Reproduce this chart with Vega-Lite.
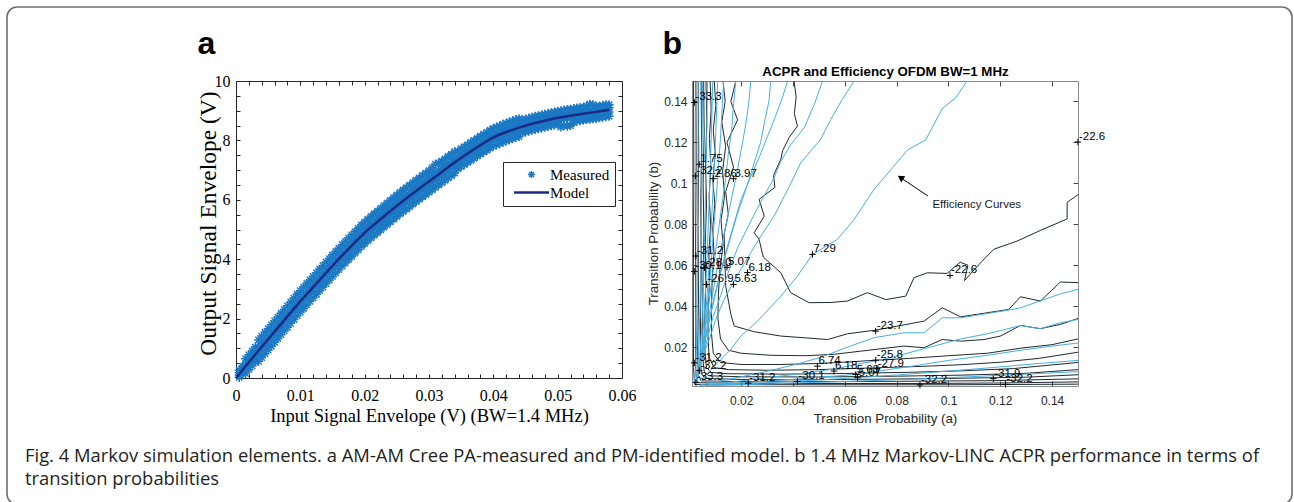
{
"$schema":"https://vega.github.io/schema/vega-lite/v6.json",
"width":1285,"height":497,
"autosize":"none",
"padding":{"left":7,"top":7,"right":2,"bottom":-2},
"background":"white",
"config":{"view":{"stroke":"#6e6e6e","strokeWidth":1.6,"cornerRadius":10,"fill":"white"},"axis":{"grid":false,"labelFlush":false,"labelOverlap":false,"titleFontWeight":"normal","zindex":1}},
"title":{"text":["Fig. 4 Markov simulation elements. a AM-AM Cree PA-measured and PM-identified model. b 1.4 MHz Markov-LINC ACPR performance in terms of","transition probabilities"],"orient":"bottom","anchor":"start","frame":"group","offset":-42,"dx":18,"baseline":"alphabetic","font":"Open Sans","fontSize":18.4,"fontWeight":"normal","color":"#231f20","lineHeight":22.5},
"datasets":{
"measured":[{"x":0.0005,"y":0.02},{"x":0.0005,"y":0.1},{"x":0.0005,"y":0.18},{"x":0.0005,"y":0.26},
{"x":0.001,"y":0.15},{"x":0.001,"y":0.23},{"x":0.001,"y":0.31},{"x":0.001,"y":0.39},
{"x":0.0015,"y":0.15},{"x":0.0015,"y":0.32},{"x":0.0015,"y":0.48},{"x":0.0015,"y":0.65},
{"x":0.002,"y":0.28},{"x":0.002,"y":0.45},{"x":0.002,"y":0.61},{"x":0.002,"y":0.78},
{"x":0.0025,"y":0.41},{"x":0.0025,"y":0.58},{"x":0.0025,"y":0.74},{"x":0.0025,"y":0.91},
{"x":0.003,"y":0.54},{"x":0.003,"y":0.71},{"x":0.003,"y":0.87},{"x":0.003,"y":1.04},
{"x":0.0035,"y":0.56},{"x":0.0035,"y":0.8},{"x":0.0035,"y":1.04},{"x":0.0035,"y":1.28},
{"x":0.004,"y":0.69},{"x":0.004,"y":0.93},{"x":0.004,"y":1.17},{"x":0.004,"y":1.41},
{"x":0.0045,"y":0.82},{"x":0.0045,"y":1.06},{"x":0.0045,"y":1.3},{"x":0.0045,"y":1.54},
{"x":0.005,"y":0.94},{"x":0.005,"y":1.18},{"x":0.005,"y":1.42},{"x":0.005,"y":1.66},
{"x":0.0055,"y":1.07},{"x":0.0055,"y":1.31},{"x":0.0055,"y":1.55},{"x":0.0055,"y":1.79},
{"x":0.006,"y":1.2},{"x":0.006,"y":1.44},{"x":0.006,"y":1.68},{"x":0.006,"y":1.92},
{"x":0.0065,"y":1.33},{"x":0.0065,"y":1.57},{"x":0.0065,"y":1.81},{"x":0.0065,"y":2.05},
{"x":0.007,"y":1.46},{"x":0.007,"y":1.7},{"x":0.007,"y":1.94},{"x":0.007,"y":2.18},
{"x":0.0075,"y":1.59},{"x":0.0075,"y":1.83},{"x":0.0075,"y":2.07},{"x":0.0075,"y":2.31},
{"x":0.008,"y":1.71},{"x":0.008,"y":1.95},{"x":0.008,"y":2.19},{"x":0.008,"y":2.43},
{"x":0.0085,"y":1.84},{"x":0.0085,"y":2.08},{"x":0.0085,"y":2.32},{"x":0.0085,"y":2.56},
{"x":0.009,"y":1.97},{"x":0.009,"y":2.21},{"x":0.009,"y":2.45},{"x":0.009,"y":2.69},
{"x":0.0095,"y":2.1},{"x":0.0095,"y":2.34},{"x":0.0095,"y":2.58},{"x":0.0095,"y":2.82},
{"x":0.01,"y":2.22},{"x":0.01,"y":2.46},{"x":0.01,"y":2.7},{"x":0.01,"y":2.94},
{"x":0.0105,"y":2.34},{"x":0.0105,"y":2.58},{"x":0.0105,"y":2.82},{"x":0.0105,"y":3.06},
{"x":0.011,"y":2.46},{"x":0.011,"y":2.7},{"x":0.011,"y":2.94},{"x":0.011,"y":3.18},
{"x":0.0115,"y":2.58},{"x":0.0115,"y":2.82},{"x":0.0115,"y":3.06},{"x":0.0115,"y":3.3},
{"x":0.012,"y":2.7},{"x":0.012,"y":2.94},{"x":0.012,"y":3.18},{"x":0.012,"y":3.42},
{"x":0.0125,"y":2.82},{"x":0.0125,"y":3.06},{"x":0.0125,"y":3.3},{"x":0.0125,"y":3.54},
{"x":0.013,"y":2.94},{"x":0.013,"y":3.18},{"x":0.013,"y":3.42},{"x":0.013,"y":3.66},
{"x":0.0135,"y":3.06},{"x":0.0135,"y":3.3},{"x":0.0135,"y":3.54},{"x":0.0135,"y":3.78},
{"x":0.014,"y":3.18},{"x":0.014,"y":3.42},{"x":0.014,"y":3.66},{"x":0.014,"y":3.9},
{"x":0.0145,"y":3.3},{"x":0.0145,"y":3.54},{"x":0.0145,"y":3.78},{"x":0.0145,"y":4.02},
{"x":0.015,"y":3.42},{"x":0.015,"y":3.66},{"x":0.015,"y":3.9},{"x":0.015,"y":4.14},
{"x":0.0155,"y":3.54},{"x":0.0155,"y":3.78},{"x":0.0155,"y":4.02},{"x":0.0155,"y":4.26},
{"x":0.016,"y":3.65},{"x":0.016,"y":3.89},{"x":0.016,"y":4.13},{"x":0.016,"y":4.37},
{"x":0.0165,"y":3.77},{"x":0.0165,"y":4.01},{"x":0.0165,"y":4.25},{"x":0.0165,"y":4.49},
{"x":0.017,"y":3.88},{"x":0.017,"y":4.12},{"x":0.017,"y":4.36},{"x":0.017,"y":4.6},
{"x":0.0175,"y":3.99},{"x":0.0175,"y":4.23},{"x":0.0175,"y":4.47},{"x":0.0175,"y":4.71},
{"x":0.018,"y":4.1},{"x":0.018,"y":4.34},{"x":0.018,"y":4.58},{"x":0.018,"y":4.82},
{"x":0.0185,"y":4.21},{"x":0.0185,"y":4.45},{"x":0.0185,"y":4.69},{"x":0.0185,"y":4.93},
{"x":0.019,"y":4.32},{"x":0.019,"y":4.56},{"x":0.019,"y":4.8},{"x":0.019,"y":5.04},
{"x":0.0195,"y":4.43},{"x":0.0195,"y":4.67},{"x":0.0195,"y":4.91},{"x":0.0195,"y":5.15},
{"x":0.02,"y":4.53},{"x":0.02,"y":4.77},{"x":0.02,"y":5.01},{"x":0.02,"y":5.25},
{"x":0.0205,"y":4.63},{"x":0.0205,"y":4.87},{"x":0.0205,"y":5.11},{"x":0.0205,"y":5.35},
{"x":0.021,"y":4.72},{"x":0.021,"y":4.96},{"x":0.021,"y":5.2},{"x":0.021,"y":5.44},
{"x":0.0215,"y":4.81},{"x":0.0215,"y":5.05},{"x":0.0215,"y":5.29},{"x":0.0215,"y":5.53},
{"x":0.022,"y":4.9},{"x":0.022,"y":5.14},{"x":0.022,"y":5.38},{"x":0.022,"y":5.62},
{"x":0.0225,"y":4.99},{"x":0.0225,"y":5.23},{"x":0.0225,"y":5.47},{"x":0.0225,"y":5.71},
{"x":0.023,"y":5.08},{"x":0.023,"y":5.32},{"x":0.023,"y":5.56},{"x":0.023,"y":5.8},
{"x":0.0235,"y":5.17},{"x":0.0235,"y":5.41},{"x":0.0235,"y":5.65},{"x":0.0235,"y":5.89},
{"x":0.024,"y":5.26},{"x":0.024,"y":5.5},{"x":0.024,"y":5.74},{"x":0.024,"y":5.98},
{"x":0.0245,"y":5.35},{"x":0.0245,"y":5.59},{"x":0.0245,"y":5.83},{"x":0.0245,"y":6.07},
{"x":0.025,"y":5.44},{"x":0.025,"y":5.68},{"x":0.025,"y":5.92},{"x":0.025,"y":6.16},
{"x":0.0255,"y":5.53},{"x":0.0255,"y":5.77},{"x":0.0255,"y":6.01},{"x":0.0255,"y":6.25},
{"x":0.026,"y":5.61},{"x":0.026,"y":5.85},{"x":0.026,"y":6.09},{"x":0.026,"y":6.33},
{"x":0.0265,"y":5.69},{"x":0.0265,"y":5.93},{"x":0.0265,"y":6.17},{"x":0.0265,"y":6.41},
{"x":0.027,"y":5.77},{"x":0.027,"y":6.01},{"x":0.027,"y":6.25},{"x":0.027,"y":6.49},
{"x":0.0275,"y":5.86},{"x":0.0275,"y":6.1},{"x":0.0275,"y":6.34},{"x":0.0275,"y":6.58},
{"x":0.028,"y":5.94},{"x":0.028,"y":6.18},{"x":0.028,"y":6.42},{"x":0.028,"y":6.66},
{"x":0.0285,"y":6.02},{"x":0.0285,"y":6.26},{"x":0.0285,"y":6.5},{"x":0.0285,"y":6.74},
{"x":0.029,"y":6.1},{"x":0.029,"y":6.34},{"x":0.029,"y":6.58},{"x":0.029,"y":6.82},
{"x":0.0295,"y":6.18},{"x":0.0295,"y":6.42},{"x":0.0295,"y":6.66},{"x":0.0295,"y":6.9},
{"x":0.03,"y":6.26},{"x":0.03,"y":6.5},{"x":0.03,"y":6.74},{"x":0.03,"y":6.98},
{"x":0.0305,"y":6.34},{"x":0.0305,"y":6.58},{"x":0.0305,"y":6.82},{"x":0.0305,"y":7.08},
{"x":0.031,"y":6.42},{"x":0.031,"y":6.66},{"x":0.031,"y":6.9},{"x":0.031,"y":7.2},
{"x":0.0315,"y":6.5},{"x":0.0315,"y":6.74},{"x":0.0315,"y":6.98},{"x":0.0315,"y":7.24},
{"x":0.032,"y":6.58},{"x":0.032,"y":6.82},{"x":0.032,"y":7.06},{"x":0.032,"y":7.3},
{"x":0.0325,"y":6.66},{"x":0.0325,"y":6.9},{"x":0.0325,"y":7.14},{"x":0.0325,"y":7.38},
{"x":0.033,"y":6.74},{"x":0.033,"y":6.98},{"x":0.033,"y":7.22},{"x":0.033,"y":7.46},
{"x":0.0335,"y":6.82},{"x":0.0335,"y":7.06},{"x":0.0335,"y":7.3},{"x":0.0335,"y":7.54},
{"x":0.034,"y":6.9},{"x":0.034,"y":7.14},{"x":0.034,"y":7.38},{"x":0.034,"y":7.62},
{"x":0.0345,"y":7.04},{"x":0.0345,"y":7.24},{"x":0.0345,"y":7.44},{"x":0.0345,"y":7.64},
{"x":0.035,"y":7.12},{"x":0.035,"y":7.32},{"x":0.035,"y":7.52},{"x":0.035,"y":7.72},
{"x":0.0355,"y":7.19},{"x":0.0355,"y":7.39},{"x":0.0355,"y":7.59},{"x":0.0355,"y":7.79},
{"x":0.036,"y":7.26},{"x":0.036,"y":7.46},{"x":0.036,"y":7.66},{"x":0.036,"y":7.86},
{"x":0.0365,"y":7.33},{"x":0.0365,"y":7.53},{"x":0.0365,"y":7.73},{"x":0.0365,"y":7.93},
{"x":0.037,"y":7.4},{"x":0.037,"y":7.6},{"x":0.037,"y":7.8},{"x":0.037,"y":8.0},
{"x":0.0375,"y":7.47},{"x":0.0375,"y":7.67},{"x":0.0375,"y":7.87},{"x":0.0375,"y":8.07},
{"x":0.038,"y":7.54},{"x":0.038,"y":7.74},{"x":0.038,"y":7.94},{"x":0.038,"y":8.14},
{"x":0.0385,"y":7.61},{"x":0.0385,"y":7.81},{"x":0.0385,"y":8.01},{"x":0.0385,"y":8.21},
{"x":0.039,"y":7.67},{"x":0.039,"y":7.87},{"x":0.039,"y":8.07},{"x":0.039,"y":8.27},
{"x":0.0395,"y":7.74},{"x":0.0395,"y":7.94},{"x":0.0395,"y":8.14},{"x":0.0395,"y":8.34},
{"x":0.04,"y":7.8},{"x":0.04,"y":8.0},{"x":0.04,"y":8.2},{"x":0.04,"y":8.4},
{"x":0.0405,"y":7.85},{"x":0.0405,"y":8.05},{"x":0.0405,"y":8.25},{"x":0.0405,"y":8.45},
{"x":0.041,"y":7.89},{"x":0.041,"y":8.09},{"x":0.041,"y":8.29},{"x":0.041,"y":8.49},
{"x":0.0415,"y":7.94},{"x":0.0415,"y":8.14},{"x":0.0415,"y":8.34},{"x":0.0415,"y":8.54},
{"x":0.042,"y":7.98},{"x":0.042,"y":8.18},{"x":0.042,"y":8.38},{"x":0.042,"y":8.58},
{"x":0.0425,"y":8.02},{"x":0.0425,"y":8.22},{"x":0.0425,"y":8.42},{"x":0.0425,"y":8.62},
{"x":0.043,"y":8.06},{"x":0.043,"y":8.26},{"x":0.043,"y":8.46},{"x":0.043,"y":8.66},
{"x":0.0435,"y":8.1},{"x":0.0435,"y":8.3},{"x":0.0435,"y":8.5},{"x":0.0435,"y":8.7},
{"x":0.044,"y":8.13},{"x":0.044,"y":8.33},{"x":0.044,"y":8.53},{"x":0.044,"y":8.73},
{"x":0.0445,"y":8.25},{"x":0.0445,"y":8.4},{"x":0.0445,"y":8.54},{"x":0.0445,"y":8.69},
{"x":0.045,"y":8.28},{"x":0.045,"y":8.43},{"x":0.045,"y":8.57},{"x":0.045,"y":8.72},
{"x":0.0455,"y":8.31},{"x":0.0455,"y":8.46},{"x":0.0455,"y":8.6},{"x":0.0455,"y":8.75},
{"x":0.046,"y":8.34},{"x":0.046,"y":8.49},{"x":0.046,"y":8.63},{"x":0.046,"y":8.78},
{"x":0.0465,"y":8.37},{"x":0.0465,"y":8.52},{"x":0.0465,"y":8.66},{"x":0.0465,"y":8.81},
{"x":0.047,"y":8.39},{"x":0.047,"y":8.54},{"x":0.047,"y":8.68},{"x":0.047,"y":8.83},
{"x":0.0475,"y":8.42},{"x":0.0475,"y":8.57},{"x":0.0475,"y":8.71},{"x":0.0475,"y":8.86},
{"x":0.048,"y":8.44},{"x":0.048,"y":8.59},{"x":0.048,"y":8.73},{"x":0.048,"y":8.88},
{"x":0.0485,"y":8.47},{"x":0.0485,"y":8.62},{"x":0.0485,"y":8.76},{"x":0.0485,"y":8.91},
{"x":0.049,"y":8.49},{"x":0.049,"y":8.64},{"x":0.049,"y":8.78},{"x":0.049,"y":8.93},
{"x":0.0495,"y":8.52},{"x":0.0495,"y":8.67},{"x":0.0495,"y":8.81},{"x":0.0495,"y":8.96},
{"x":0.05,"y":8.54},{"x":0.05,"y":8.69},{"x":0.05,"y":8.83},{"x":0.05,"y":8.98},
{"x":0.0505,"y":8.45},{"x":0.0505,"y":8.71},{"x":0.0505,"y":8.85},{"x":0.0505,"y":9.0},
{"x":0.051,"y":8.5},{"x":0.051,"y":8.73},{"x":0.051,"y":8.87},{"x":0.051,"y":9.02},
{"x":0.0515,"y":8.48},{"x":0.0515,"y":8.75},{"x":0.0515,"y":8.89},{"x":0.0515,"y":9.04},
{"x":0.052,"y":8.5},{"x":0.052,"y":8.76},{"x":0.052,"y":8.9},{"x":0.052,"y":9.05},
{"x":0.0525,"y":8.6},{"x":0.0525,"y":8.78},{"x":0.0525,"y":8.92},{"x":0.0525,"y":9.07},
{"x":0.053,"y":8.65},{"x":0.053,"y":8.8},{"x":0.053,"y":8.94},{"x":0.053,"y":9.09},
{"x":0.0535,"y":8.67},{"x":0.0535,"y":8.82},{"x":0.0535,"y":8.96},{"x":0.0535,"y":9.11},
{"x":0.054,"y":8.68},{"x":0.054,"y":8.83},{"x":0.054,"y":8.97},{"x":0.054,"y":9.12},
{"x":0.0545,"y":8.7},{"x":0.0545,"y":8.85},{"x":0.0545,"y":8.99},{"x":0.0545,"y":9.16},
{"x":0.055,"y":8.71},{"x":0.055,"y":8.86},{"x":0.055,"y":9.0},{"x":0.055,"y":9.22},
{"x":0.0555,"y":8.73},{"x":0.0555,"y":8.88},{"x":0.0555,"y":9.02},{"x":0.0555,"y":9.2},
{"x":0.056,"y":8.74},{"x":0.056,"y":8.89},{"x":0.056,"y":9.03},{"x":0.056,"y":9.15},
{"x":0.0565,"y":8.76},{"x":0.0565,"y":8.91},{"x":0.0565,"y":9.05},{"x":0.0565,"y":9.16},
{"x":0.057,"y":8.78},{"x":0.057,"y":8.93},{"x":0.057,"y":9.07},{"x":0.057,"y":9.18},
{"x":0.0575,"y":8.8},{"x":0.0575,"y":8.95},{"x":0.0575,"y":9.09},{"x":0.0575,"y":9.2},
{"x":0.058,"y":8.81},{"x":0.058,"y":8.96},{"x":0.058,"y":9.1},{"x":0.058,"y":9.2}],
"model":[{"x":0,"y":0},{"x":0.002,"y":0.53},{"x":0.004,"y":1.05},{"x":0.006,"y":1.56},{"x":0.008,"y":2.07},{"x":0.01,"y":2.58},{"x":0.012,"y":3.06},{"x":0.014,"y":3.54},{"x":0.016,"y":4.01},{"x":0.018,"y":4.46},{"x":0.02,"y":4.89},{"x":0.022,"y":5.26},{"x":0.024,"y":5.62},{"x":0.026,"y":5.97},{"x":0.028,"y":6.3},{"x":0.03,"y":6.62},{"x":0.032,"y":6.94},{"x":0.034,"y":7.26},{"x":0.036,"y":7.56},{"x":0.038,"y":7.84},{"x":0.04,"y":8.1},{"x":0.042,"y":8.28},{"x":0.044,"y":8.43},{"x":0.046,"y":8.56},{"x":0.048,"y":8.66},{"x":0.05,"y":8.76},{"x":0.052,"y":8.83},{"x":0.054,"y":8.9},{"x":0.056,"y":8.96},{"x":0.058,"y":9.03}],
"acpr":[
{"c":"k1","i":1,"x":0.0404,"y":0.15},{"c":"k1","i":2,"x":0.0412,"y":0.142},{"c":"k1","i":3,"x":0.0405,"y":0.134},{"c":"k1","i":4,"x":0.0417,"y":0.128},{"c":"k1","i":5,"x":0.0385,"y":0.1224},{"c":"k1","i":6,"x":0.036,"y":0.116},{"c":"k1","i":7,"x":0.0353,"y":0.1118},{"c":"k1","i":8,"x":0.0325,"y":0.104},{"c":"k1","i":9,"x":0.033,"y":0.098},{"c":"k1","i":10,"x":0.0269,"y":0.0922},{"c":"k1","i":11,"x":0.0289,"y":0.084},{"c":"k1","i":12,"x":0.025,"y":0.0759},{"c":"k1","i":13,"x":0.0269,"y":0.0726},{"c":"k1","i":14,"x":0.0285,"y":0.064},{"c":"k1","i":15,"x":0.0353,"y":0.0563},{"c":"k1","i":16,"x":0.0391,"y":0.0466},{"c":"k1","i":17,"x":0.0462,"y":0.0417},{"c":"k1","i":18,"x":0.0546,"y":0.0418},{"c":"k1","i":19,"x":0.061,"y":0.0425},{"c":"k1","i":20,"x":0.0687,"y":0.0466},{"c":"k1","i":21,"x":0.0758,"y":0.0432},{"c":"k1","i":22,"x":0.0835,"y":0.0449},{"c":"k1","i":23,"x":0.0867,"y":0.0539},{"c":"k1","i":24,"x":0.0918,"y":0.0563},{"c":"k1","i":25,"x":0.0995,"y":0.056},{"c":"k1","i":26,"x":0.1045,"y":0.0615},{"c":"k1","i":27,"x":0.1075,"y":0.06},{"c":"k1","i":28,"x":0.1062,"y":0.0525},{"c":"k1","i":29,"x":0.109,"y":0.0565},{"c":"k1","i":30,"x":0.113,"y":0.062},{"c":"k1","i":31,"x":0.1175,"y":0.0678},{"c":"k1","i":32,"x":0.1265,"y":0.0718},{"c":"k1","i":33,"x":0.1355,"y":0.077},{"c":"k1","i":34,"x":0.1458,"y":0.0826},{"c":"k1","i":35,"x":0.1458,"y":0.0907},{"c":"k1","i":36,"x":0.15,"y":0.0945},
{"c":"k2","i":1,"x":0.0179,"y":0.15},{"c":"k2","i":2,"x":0.016,"y":0.14},{"c":"k2","i":3,"x":0.0186,"y":0.131},{"c":"k2","i":4,"x":0.0145,"y":0.12},{"c":"k2","i":5,"x":0.017,"y":0.108},{"c":"k2","i":6,"x":0.014,"y":0.096},{"c":"k2","i":7,"x":0.015,"y":0.085},{"c":"k2","i":8,"x":0.0134,"y":0.075},{"c":"k2","i":9,"x":0.0137,"y":0.062},{"c":"k2","i":10,"x":0.014,"y":0.05},{"c":"k2","i":11,"x":0.016,"y":0.036},{"c":"k2","i":12,"x":0.0173,"y":0.0303},{"c":"k2","i":13,"x":0.025,"y":0.0275},{"c":"k2","i":14,"x":0.0353,"y":0.0254},{"c":"k2","i":15,"x":0.045,"y":0.0245},{"c":"k2","i":16,"x":0.0533,"y":0.0237},{"c":"k2","i":17,"x":0.061,"y":0.0265},{"c":"k2","i":18,"x":0.0719,"y":0.0283},{"c":"k2","i":19,"x":0.0906,"y":0.0327},{"c":"k2","i":20,"x":0.0976,"y":0.0392},{"c":"k2","i":21,"x":0.1047,"y":0.0348},{"c":"k2","i":22,"x":0.1233,"y":0.0384},{"c":"k2","i":23,"x":0.1278,"y":0.0446},{"c":"k2","i":24,"x":0.1355,"y":0.0425},{"c":"k2","i":25,"x":0.1432,"y":0.0518},{"c":"k2","i":26,"x":0.15,"y":0.0515},
{"c":"k3","i":1,"x":0.013,"y":0.15},{"c":"k3","i":2,"x":0.0138,"y":0.14},{"c":"k3","i":3,"x":0.0125,"y":0.13},{"c":"k3","i":4,"x":0.014,"y":0.118},{"c":"k3","i":5,"x":0.0128,"y":0.106},{"c":"k3","i":6,"x":0.0136,"y":0.094},{"c":"k3","i":7,"x":0.0122,"y":0.082},{"c":"k3","i":8,"x":0.013,"y":0.07},{"c":"k3","i":9,"x":0.0118,"y":0.058},{"c":"k3","i":10,"x":0.0112,"y":0.046},{"c":"k3","i":11,"x":0.011,"y":0.034},{"c":"k3","i":12,"x":0.012,"y":0.024},{"c":"k3","i":13,"x":0.015,"y":0.0185},{"c":"k3","i":14,"x":0.02,"y":0.017},{"c":"k3","i":15,"x":0.0314,"y":0.016},{"c":"k3","i":16,"x":0.045,"y":0.0158},{"c":"k3","i":17,"x":0.056,"y":0.0165},{"c":"k3","i":18,"x":0.066,"y":0.018},{"c":"k3","i":19,"x":0.0828,"y":0.0205},{"c":"k3","i":20,"x":0.0905,"y":0.0197},{"c":"k3","i":21,"x":0.0976,"y":0.0237},{"c":"k3","i":22,"x":0.1047,"y":0.0229},{"c":"k3","i":23,"x":0.1137,"y":0.0237},{"c":"k3","i":24,"x":0.1201,"y":0.0254},{"c":"k3","i":25,"x":0.1278,"y":0.0306},{"c":"k3","i":26,"x":0.1355,"y":0.029},{"c":"k3","i":27,"x":0.1432,"y":0.0311},{"c":"k3","i":28,"x":0.15,"y":0.034},
{"c":"k4","i":1,"x":0.0096,"y":0.15},{"c":"k4","i":2,"x":0.0102,"y":0.138},{"c":"k4","i":3,"x":0.0092,"y":0.126},{"c":"k4","i":4,"x":0.01,"y":0.114},{"c":"k4","i":5,"x":0.009,"y":0.102},{"c":"k4","i":6,"x":0.0098,"y":0.09},{"c":"k4","i":7,"x":0.009,"y":0.078},{"c":"k4","i":8,"x":0.0095,"y":0.066},{"c":"k4","i":9,"x":0.0088,"y":0.054},{"c":"k4","i":10,"x":0.0085,"y":0.04},{"c":"k4","i":11,"x":0.0085,"y":0.027},{"c":"k4","i":12,"x":0.0092,"y":0.017},{"c":"k4","i":13,"x":0.012,"y":0.0125},{"c":"k4","i":14,"x":0.02,"y":0.0115},{"c":"k4","i":15,"x":0.035,"y":0.0115},{"c":"k4","i":16,"x":0.05,"y":0.012},{"c":"k4","i":17,"x":0.062,"y":0.0128},{"c":"k4","i":18,"x":0.072,"y":0.0136},{"c":"k4","i":19,"x":0.085,"y":0.0145},{"c":"k4","i":20,"x":0.1,"y":0.0158},{"c":"k4","i":21,"x":0.115,"y":0.017},{"c":"k4","i":22,"x":0.128,"y":0.0195},{"c":"k4","i":23,"x":0.14,"y":0.0212},{"c":"k4","i":24,"x":0.15,"y":0.024},
{"c":"k5","i":1,"x":0.008,"y":0.15},{"c":"k5","i":2,"x":0.0084,"y":0.136},{"c":"k5","i":3,"x":0.0077,"y":0.122},{"c":"k5","i":4,"x":0.0083,"y":0.108},{"c":"k5","i":5,"x":0.0076,"y":0.094},{"c":"k5","i":6,"x":0.0082,"y":0.08},{"c":"k5","i":7,"x":0.0075,"y":0.066},{"c":"k5","i":8,"x":0.0078,"y":0.052},{"c":"k5","i":9,"x":0.0072,"y":0.038},{"c":"k5","i":10,"x":0.0072,"y":0.025},{"c":"k5","i":11,"x":0.0076,"y":0.015},{"c":"k5","i":12,"x":0.0095,"y":0.01},{"c":"k5","i":13,"x":0.015,"y":0.009},{"c":"k5","i":14,"x":0.03,"y":0.0087},{"c":"k5","i":15,"x":0.05,"y":0.009},{"c":"k5","i":16,"x":0.072,"y":0.0099},{"c":"k5","i":17,"x":0.09,"y":0.0106},{"c":"k5","i":18,"x":0.105,"y":0.0114},{"c":"k5","i":19,"x":0.12,"y":0.0126},{"c":"k5","i":20,"x":0.135,"y":0.0145},{"c":"k5","i":21,"x":0.15,"y":0.0175},
{"c":"k6","i":1,"x":0.0064,"y":0.15},{"c":"k6","i":2,"x":0.0067,"y":0.13},{"c":"k6","i":3,"x":0.0062,"y":0.11},{"c":"k6","i":4,"x":0.0066,"y":0.09},{"c":"k6","i":5,"x":0.0061,"y":0.07},{"c":"k6","i":6,"x":0.0063,"y":0.05},{"c":"k6","i":7,"x":0.0059,"y":0.032},{"c":"k6","i":8,"x":0.006,"y":0.018},{"c":"k6","i":9,"x":0.0066,"y":0.01},{"c":"k6","i":10,"x":0.0085,"y":0.0076},{"c":"k6","i":11,"x":0.015,"y":0.007},{"c":"k6","i":12,"x":0.035,"y":0.0068},{"c":"k6","i":13,"x":0.06,"y":0.0071},{"c":"k6","i":14,"x":0.085,"y":0.0077},{"c":"k6","i":15,"x":0.105,"y":0.0084},{"c":"k6","i":16,"x":0.125,"y":0.0095},{"c":"k6","i":17,"x":0.15,"y":0.0125},
{"c":"k7","i":1,"x":0.0055,"y":0.15},{"c":"k7","i":2,"x":0.0057,"y":0.125},{"c":"k7","i":3,"x":0.0053,"y":0.1},{"c":"k7","i":4,"x":0.0056,"y":0.075},{"c":"k7","i":5,"x":0.0052,"y":0.05},{"c":"k7","i":6,"x":0.0051,"y":0.028},{"c":"k7","i":7,"x":0.0052,"y":0.014},{"c":"k7","i":8,"x":0.0058,"y":0.0075},{"c":"k7","i":9,"x":0.0075,"y":0.006},{"c":"k7","i":10,"x":0.02,"y":0.0055},{"c":"k7","i":11,"x":0.05,"y":0.0054},{"c":"k7","i":12,"x":0.08,"y":0.0058},{"c":"k7","i":13,"x":0.105,"y":0.0063},{"c":"k7","i":14,"x":0.13,"y":0.0072},{"c":"k7","i":15,"x":0.15,"y":0.009},
{"c":"k8","i":1,"x":0.0045,"y":0.15},{"c":"k8","i":2,"x":0.0047,"y":0.12},{"c":"k8","i":3,"x":0.0044,"y":0.09},{"c":"k8","i":4,"x":0.0046,"y":0.06},{"c":"k8","i":5,"x":0.0043,"y":0.035},{"c":"k8","i":6,"x":0.0042,"y":0.016},{"c":"k8","i":7,"x":0.0046,"y":0.007},{"c":"k8","i":8,"x":0.006,"y":0.0047},{"c":"k8","i":9,"x":0.02,"y":0.0042},{"c":"k8","i":10,"x":0.0417,"y":0.004},{"c":"k8","i":11,"x":0.07,"y":0.0043},{"c":"k8","i":12,"x":0.1,"y":0.0047},{"c":"k8","i":13,"x":0.13,"y":0.0053},{"c":"k8","i":14,"x":0.15,"y":0.0065},
{"c":"k9","i":1,"x":0.0034,"y":0.15},{"c":"k9","i":2,"x":0.0036,"y":0.115},{"c":"k9","i":3,"x":0.0033,"y":0.08},{"c":"k9","i":4,"x":0.0035,"y":0.045},{"c":"k9","i":5,"x":0.0032,"y":0.018},{"c":"k9","i":6,"x":0.0034,"y":0.0065},{"c":"k9","i":7,"x":0.0045,"y":0.0035},{"c":"k9","i":8,"x":0.0224,"y":0.0031},{"c":"k9","i":9,"x":0.05,"y":0.0031},{"c":"k9","i":10,"x":0.08,"y":0.0033},{"c":"k9","i":11,"x":0.117,"y":0.0036},{"c":"k9","i":12,"x":0.15,"y":0.0045},
{"c":"k10","i":1,"x":0.0025,"y":0.15},{"c":"k10","i":2,"x":0.0026,"y":0.11},{"c":"k10","i":3,"x":0.0024,"y":0.07},{"c":"k10","i":4,"x":0.0025,"y":0.03},{"c":"k10","i":5,"x":0.0024,"y":0.008},{"c":"k10","i":6,"x":0.003,"y":0.0026},{"c":"k10","i":7,"x":0.03,"y":0.0022},{"c":"k10","i":8,"x":0.06,"y":0.0022},{"c":"k10","i":9,"x":0.089,"y":0.0022},{"c":"k10","i":10,"x":0.122,"y":0.0025},{"c":"k10","i":11,"x":0.15,"y":0.003},
{"c":"k11","i":1,"x":0.0016,"y":0.15},{"c":"k11","i":2,"x":0.0017,"y":0.1},{"c":"k11","i":3,"x":0.0015,"y":0.05},{"c":"k11","i":4,"x":0.0016,"y":0.01},{"c":"k11","i":5,"x":0.002,"y":0.0017},{"c":"k11","i":6,"x":0.05,"y":0.0016},{"c":"k11","i":7,"x":0.1,"y":0.0016},{"c":"k11","i":8,"x":0.15,"y":0.0019}],
"eff":[
{"c":"e1","i":1,"x":0.1072,"y":0.15},{"c":"e1","i":2,"x":0.1028,"y":0.1419},{"c":"e1","i":3,"x":0.0976,"y":0.1365},{"c":"e1","i":4,"x":0.0912,"y":0.1212},{"c":"e1","i":5,"x":0.0841,"y":0.1162},{"c":"e1","i":6,"x":0.079,"y":0.1085},{"c":"e1","i":7,"x":0.0713,"y":0.0971},{"c":"e1","i":8,"x":0.0636,"y":0.0824},{"c":"e1","i":9,"x":0.0571,"y":0.0726},{"c":"e1","i":10,"x":0.0475,"y":0.0653},{"c":"e1","i":11,"x":0.0417,"y":0.0547},{"c":"e1","i":12,"x":0.0353,"y":0.0449},{"c":"e1","i":13,"x":0.0263,"y":0.0327},{"c":"e1","i":14,"x":0.0199,"y":0.0254},{"c":"e1","i":15,"x":0.016,"y":0.0189},{"c":"e1","i":16,"x":0.0109,"y":0.0123},{"c":"e1","i":17,"x":0.007,"y":0.0074},{"c":"e1","i":18,"x":0.0045,"y":0.0034},
{"c":"e2","i":1,"x":0.0636,"y":0.15},{"c":"e2","i":2,"x":0.059,"y":0.141},{"c":"e2","i":3,"x":0.0546,"y":0.1313},{"c":"e2","i":4,"x":0.0507,"y":0.1216},{"c":"e2","i":5,"x":0.043,"y":0.1101},{"c":"e2","i":6,"x":0.038,"y":0.097},{"c":"e2","i":7,"x":0.0327,"y":0.0841},{"c":"e2","i":8,"x":0.028,"y":0.075},{"c":"e2","i":9,"x":0.0237,"y":0.0661},{"c":"e2","i":10,"x":0.018,"y":0.054},{"c":"e2","i":11,"x":0.0134,"y":0.0433},{"c":"e2","i":12,"x":0.01,"y":0.033},{"c":"e2","i":13,"x":0.0077,"y":0.0238},{"c":"e2","i":14,"x":0.0051,"y":0.0156},{"c":"e2","i":15,"x":0.0035,"y":0.008},{"c":"e2","i":16,"x":0.0025,"y":0.003},
{"c":"e3","i":1,"x":0.0514,"y":0.15},{"c":"e3","i":2,"x":0.0482,"y":0.1385},{"c":"e3","i":3,"x":0.0443,"y":0.1272},{"c":"e3","i":4,"x":0.0392,"y":0.119},{"c":"e3","i":5,"x":0.0353,"y":0.1109},{"c":"e3","i":6,"x":0.0327,"y":0.1027},{"c":"e3","i":7,"x":0.0263,"y":0.088},{"c":"e3","i":8,"x":0.0224,"y":0.0782},{"c":"e3","i":9,"x":0.0186,"y":0.0685},{"c":"e3","i":10,"x":0.0147,"y":0.0555},{"c":"e3","i":11,"x":0.0122,"y":0.0457},{"c":"e3","i":12,"x":0.009,"y":0.0343},{"c":"e3","i":13,"x":0.007,"y":0.0245},{"c":"e3","i":14,"x":0.0051,"y":0.0148},{"c":"e3","i":15,"x":0.0035,"y":0.007},{"c":"e3","i":16,"x":0.0025,"y":0.0025},
{"c":"e4","i":1,"x":0.0379,"y":0.15},{"c":"e4","i":2,"x":0.036,"y":0.1423},{"c":"e4","i":3,"x":0.0327,"y":0.131},{"c":"e4","i":4,"x":0.0301,"y":0.1228},{"c":"e4","i":5,"x":0.0276,"y":0.1147},{"c":"e4","i":6,"x":0.0237,"y":0.1033},{"c":"e4","i":7,"x":0.0199,"y":0.092},{"c":"e4","i":8,"x":0.0173,"y":0.0806},{"c":"e4","i":9,"x":0.0147,"y":0.0692},{"c":"e4","i":10,"x":0.0122,"y":0.0578},{"c":"e4","i":11,"x":0.0096,"y":0.0448},{"c":"e4","i":12,"x":0.0077,"y":0.0334},{"c":"e4","i":13,"x":0.0058,"y":0.0211},{"c":"e4","i":14,"x":0.0042,"y":0.011},{"c":"e4","i":15,"x":0.003,"y":0.0045},
{"c":"e5","i":1,"x":0.0314,"y":0.15},{"c":"e5","i":2,"x":0.0307,"y":0.14},{"c":"e5","i":3,"x":0.029,"y":0.13},{"c":"e5","i":4,"x":0.0275,"y":0.12},{"c":"e5","i":5,"x":0.0245,"y":0.108},{"c":"e5","i":6,"x":0.0215,"y":0.096},{"c":"e5","i":7,"x":0.0185,"y":0.085},{"c":"e5","i":8,"x":0.016,"y":0.074},{"c":"e5","i":9,"x":0.0135,"y":0.063},{"c":"e5","i":10,"x":0.011,"y":0.051},{"c":"e5","i":11,"x":0.009,"y":0.04},{"c":"e5","i":12,"x":0.007,"y":0.029},{"c":"e5","i":13,"x":0.0052,"y":0.018},{"c":"e5","i":14,"x":0.0038,"y":0.009},{"c":"e5","i":15,"x":0.0028,"y":0.0035},
{"c":"e6","i":1,"x":0.0237,"y":0.15},{"c":"e6","i":2,"x":0.0228,"y":0.138},{"c":"e6","i":3,"x":0.0215,"y":0.127},{"c":"e6","i":4,"x":0.0198,"y":0.115},{"c":"e6","i":5,"x":0.018,"y":0.103},{"c":"e6","i":6,"x":0.016,"y":0.091},{"c":"e6","i":7,"x":0.014,"y":0.079},{"c":"e6","i":8,"x":0.012,"y":0.067},{"c":"e6","i":9,"x":0.0102,"y":0.055},{"c":"e6","i":10,"x":0.0086,"y":0.043},{"c":"e6","i":11,"x":0.007,"y":0.031},{"c":"e6","i":12,"x":0.0055,"y":0.02},{"c":"e6","i":13,"x":0.0041,"y":0.01},{"c":"e6","i":14,"x":0.003,"y":0.004},
{"c":"e7","i":1,"x":0.0179,"y":0.15},{"c":"e7","i":2,"x":0.017,"y":0.138},{"c":"e7","i":3,"x":0.0163,"y":0.126},{"c":"e7","i":4,"x":0.015,"y":0.114},{"c":"e7","i":5,"x":0.014,"y":0.102},{"c":"e7","i":6,"x":0.0126,"y":0.09},{"c":"e7","i":7,"x":0.0113,"y":0.078},{"c":"e7","i":8,"x":0.01,"y":0.066},{"c":"e7","i":9,"x":0.0088,"y":0.054},{"c":"e7","i":10,"x":0.0076,"y":0.042},{"c":"e7","i":11,"x":0.0063,"y":0.03},{"c":"e7","i":12,"x":0.005,"y":0.019},{"c":"e7","i":13,"x":0.0038,"y":0.009},{"c":"e7","i":14,"x":0.0028,"y":0.0035},
{"c":"e8","i":1,"x":0.0132,"y":0.15},{"c":"e8","i":2,"x":0.0126,"y":0.136},{"c":"e8","i":3,"x":0.012,"y":0.122},{"c":"e8","i":4,"x":0.0112,"y":0.108},{"c":"e8","i":5,"x":0.0104,"y":0.094},{"c":"e8","i":6,"x":0.0095,"y":0.08},{"c":"e8","i":7,"x":0.0087,"y":0.066},{"c":"e8","i":8,"x":0.0078,"y":0.052},{"c":"e8","i":9,"x":0.0068,"y":0.038},{"c":"e8","i":10,"x":0.0057,"y":0.025},{"c":"e8","i":11,"x":0.0045,"y":0.013},{"c":"e8","i":12,"x":0.0033,"y":0.005},
{"c":"e9","i":1,"x":0.0109,"y":0.15},{"c":"e9","i":2,"x":0.0104,"y":0.132},{"c":"e9","i":3,"x":0.0098,"y":0.114},{"c":"e9","i":4,"x":0.0091,"y":0.096},{"c":"e9","i":5,"x":0.0084,"y":0.078},{"c":"e9","i":6,"x":0.0076,"y":0.06},{"c":"e9","i":7,"x":0.0067,"y":0.043},{"c":"e9","i":8,"x":0.0057,"y":0.027},{"c":"e9","i":9,"x":0.0045,"y":0.013},{"c":"e9","i":10,"x":0.0032,"y":0.004},
{"c":"e10","i":1,"x":0.009,"y":0.15},{"c":"e10","i":2,"x":0.0086,"y":0.13},{"c":"e10","i":3,"x":0.0081,"y":0.11},{"c":"e10","i":4,"x":0.0076,"y":0.09},{"c":"e10","i":5,"x":0.007,"y":0.07},{"c":"e10","i":6,"x":0.0063,"y":0.05},{"c":"e10","i":7,"x":0.0055,"y":0.032},{"c":"e10","i":8,"x":0.0045,"y":0.016},{"c":"e10","i":9,"x":0.0034,"y":0.006},
{"c":"e11","i":1,"x":0.007,"y":0.15},{"c":"e11","i":2,"x":0.0067,"y":0.125},{"c":"e11","i":3,"x":0.0063,"y":0.1},{"c":"e11","i":4,"x":0.0059,"y":0.075},{"c":"e11","i":5,"x":0.0054,"y":0.05},{"c":"e11","i":6,"x":0.0047,"y":0.028},{"c":"e11","i":7,"x":0.0039,"y":0.012},{"c":"e11","i":8,"x":0.003,"y":0.004},
{"c":"e12","i":1,"x":0.0051,"y":0.15},{"c":"e12","i":2,"x":0.0049,"y":0.12},{"c":"e12","i":3,"x":0.0047,"y":0.09},{"c":"e12","i":4,"x":0.0044,"y":0.06},{"c":"e12","i":5,"x":0.004,"y":0.035},{"c":"e12","i":6,"x":0.0035,"y":0.015},{"c":"e12","i":7,"x":0.0027,"y":0.004},
{"c":"e13","i":1,"x":0.0034,"y":0.15},{"c":"e13","i":2,"x":0.0033,"y":0.11},{"c":"e13","i":3,"x":0.0031,"y":0.07},{"c":"e13","i":4,"x":0.0029,"y":0.035},{"c":"e13","i":5,"x":0.0025,"y":0.01},{"c":"e13","i":6,"x":0.002,"y":0.003},
{"c":"f1","i":1,"x":0.15,"y":0.0482},{"c":"f1","i":2,"x":0.1432,"y":0.046},{"c":"f1","i":3,"x":0.1278,"y":0.0392},{"c":"f1","i":4,"x":0.1233,"y":0.0381},{"c":"f1","i":5,"x":0.1047,"y":0.0343},{"c":"f1","i":6,"x":0.0976,"y":0.0343},{"c":"f1","i":7,"x":0.0906,"y":0.027},{"c":"f1","i":8,"x":0.0828,"y":0.027},{"c":"f1","i":9,"x":0.0713,"y":0.0246},{"c":"f1","i":10,"x":0.061,"y":0.02},{"c":"f1","i":11,"x":0.0507,"y":0.015},{"c":"f1","i":12,"x":0.04,"y":0.0112},{"c":"f1","i":13,"x":0.03,"y":0.0082},{"c":"f1","i":14,"x":0.02,"y":0.0055},{"c":"f1","i":15,"x":0.01,"y":0.003},{"c":"f1","i":16,"x":0.004,"y":0.0015},
{"c":"f2","i":1,"x":0.15,"y":0.0335},{"c":"f2","i":2,"x":0.1432,"y":0.0319},{"c":"f2","i":3,"x":0.1355,"y":0.029},{"c":"f2","i":4,"x":0.1278,"y":0.0305},{"c":"f2","i":5,"x":0.115,"y":0.0265},{"c":"f2","i":6,"x":0.1047,"y":0.024},{"c":"f2","i":7,"x":0.09,"y":0.019},{"c":"f2","i":8,"x":0.075,"y":0.014},{"c":"f2","i":9,"x":0.0642,"y":0.0115},{"c":"f2","i":10,"x":0.0558,"y":0.0093},{"c":"f2","i":11,"x":0.045,"y":0.0074},{"c":"f2","i":12,"x":0.033,"y":0.0055},{"c":"f2","i":13,"x":0.02,"y":0.0035},{"c":"f2","i":14,"x":0.01,"y":0.002},{"c":"f2","i":15,"x":0.004,"y":0.0012},
{"c":"f3","i":1,"x":0.15,"y":0.022},{"c":"f3","i":2,"x":0.14,"y":0.0205},{"c":"f3","i":3,"x":0.128,"y":0.0185},{"c":"f3","i":4,"x":0.115,"y":0.016},{"c":"f3","i":5,"x":0.1,"y":0.0135},{"c":"f3","i":6,"x":0.085,"y":0.0105},{"c":"f3","i":7,"x":0.0642,"y":0.0067},{"c":"f3","i":8,"x":0.05,"y":0.0052},{"c":"f3","i":9,"x":0.035,"y":0.0038},{"c":"f3","i":10,"x":0.02,"y":0.0025},{"c":"f3","i":11,"x":0.008,"y":0.0014},
{"c":"f4","i":1,"x":0.15,"y":0.0135},{"c":"f4","i":2,"x":0.135,"y":0.012},{"c":"f4","i":3,"x":0.115,"y":0.0098},{"c":"f4","i":4,"x":0.095,"y":0.0078},{"c":"f4","i":5,"x":0.08,"y":0.0064},{"c":"f4","i":6,"x":0.0642,"y":0.005},{"c":"f4","i":7,"x":0.045,"y":0.0036},{"c":"f4","i":8,"x":0.03,"y":0.0026},{"c":"f4","i":9,"x":0.015,"y":0.0017},{"c":"f4","i":10,"x":0.006,"y":0.0012},
{"c":"f5","i":1,"x":0.15,"y":0.008},{"c":"f5","i":2,"x":0.12,"y":0.0062},{"c":"f5","i":3,"x":0.09,"y":0.0045},{"c":"f5","i":4,"x":0.06,"y":0.0032},{"c":"f5","i":5,"x":0.03,"y":0.002},{"c":"f5","i":6,"x":0.01,"y":0.0013}],
"labels":[{"t":"-33.3","x":0.0019,"y":0.1395},{"t":"1.75","x":0.0038,"y":0.1093},{"t":"-32.2","x":0.0023,"y":0.1036},{"t":"2.86","x":0.0093,"y":0.1023},{"t":"3.97","x":0.017,"y":0.1023},{"t":"-31.2","x":0.0025,"y":0.0645},{"t":"-30.1","x":0.0019,"y":0.057},{"t":"-28.0","x":0.0058,"y":0.0588},{"t":"5.07","x":0.0145,"y":0.059},{"t":"6.18","x":0.0224,"y":0.0564},{"t":"-26.9","x":0.0066,"y":0.0506},{"t":"5.63","x":0.017,"y":0.0506},{"t":"7.29","x":0.0475,"y":0.0653},{"t":"-22.6","x":0.1006,"y":0.055},{"t":"-22.6","x":0.15,"y":0.1202},{"t":"-23.7","x":0.0719,"y":0.0278},{"t":"-25.8","x":0.0719,"y":0.0136},{"t":"6.74","x":0.0494,"y":0.0107},{"t":"6.18","x":0.0558,"y":0.0083},{"t":"5.63","x":0.0642,"y":0.0066},{"t":"-27.9","x":0.0723,"y":0.0094},{"t":"5.07","x":0.0649,"y":0.005},{"t":"-30.1","x":0.0417,"y":0.0032},{"t":"-31.2","x":0.0227,"y":0.0024},{"t":"-32.2","x":0.089,"y":0.0015},{"t":"-31.9","x":0.1173,"y":0.0046},{"t":"-32.2","x":0.122,"y":0.0018},{"t":"-31.2","x":0.0019,"y":0.0123},{"t":"-32.2","x":0.0038,"y":0.0085},{"t":"-33.3","x":0.0025,"y":0.0028}],
"note":[{"t":"Efficiency Curves","x":0.0938,"y":0.0893}],
"arrow":[{"i":1,"x":0.0921,"y":0.0938},{"i":2,"x":0.0815,"y":0.1028}]
},
"layer":[
{"layer":[
 {"data":{"name":"measured"},
  "mark":{"type":"point","filled":false,"size":81,"opacity":1},
  "encoding":{
   "x":{"field":"x","type":"quantitative","scale":{"domain":[0,0.06],"range":[229,615],"nice":false,"zero":false},
        "axis":{"orient":"bottom","offset":-126,"values":[0,0.002,0.004,0.006,0.008,0.01,0.012,0.014,0.016,0.018,0.02,0.022,0.024,0.026,0.028,0.03,0.032,0.034,0.036,0.038,0.04,0.042,0.044,0.046,0.048,0.05,0.052,0.054,0.056,0.058,0.06],
          "labelExpr":"abs(datum.value*100 - round(datum.value*100)) < 0.001 ? format(datum.value, '~g') : ''",
          "tickSize":-4,"tickColor":"#262626","domainColor":"#262626","labelFont":"Liberation Serif","labelFontSize":16,"labelColor":"black","labelBaseline":"alphabetic","labelPadding":26,
          "title":"Input Signal Envelope (V) (BW=1.4 MHz)","titleFont":"Liberation Serif","titleFontSize":18.5,"titleColor":"black","titleBaseline":"alphabetic","titleAlign":"center","titleX":422,"titleY":43}},
   "y":{"field":"y","type":"quantitative","scale":{"domain":[0,10],"range":[371,74],"nice":false,"zero":false},
        "axis":{"orient":"left","offset":-229,"values":[0,0.5,1,1.5,2,2.5,3,3.5,4,4.5,5,5.5,6,6.5,7,7.5,8,8.5,9,9.5,10],
          "labelExpr":"datum.value % 2 == 0 ? format(datum.value, 'd') : ''",
          "tickSize":-4,"tickColor":"#262626","domainColor":"#262626","labelFont":"Liberation Serif","labelFontSize":16,"labelColor":"black","labelPadding":10,
          "title":"Output Signal Envelope (V)","titleFont":"Liberation Serif","titleFontSize":23.5,"titleColor":"black","titleAngle":-90,"titleBaseline":"middle","titleAlign":"center","titleX":-28,"titleY":216}},
   "color":{"datum":"Measured","type":"nominal","scale":{"domain":["Measured","Model"],"range":["#1a78c4","#1c2a86"]},
     "legend":{"orient":"none","legendX":496,"legendY":155,"title":null,"padding":5,"strokeColor":"#262626","fillColor":"white","labelFont":"Liberation Serif","labelFontSize":15,"labelColor":"black","symbolSize":49,"labelOffset":11,"symbolOffset":16,"rowPadding":2}},
   "shape":{"datum":"Measured","type":"nominal","scale":{"domain":["Measured","Model"],"range":["M-1,0L1,0M0,-1L0,1M-0.7,-0.7L0.7,0.7M-0.7,0.7L0.7,-0.7","M-5,0L5,0"]},
     "legend":{"orient":"none","legendX":496,"legendY":155,"title":null,"padding":5,"strokeColor":"#262626","fillColor":"white","labelFont":"Liberation Serif","labelFontSize":15,"labelColor":"black","symbolSize":49,"labelOffset":11,"symbolOffset":16,"rowPadding":2}},
   "strokeWidth":{"datum":"Measured","type":"nominal","scale":{"type":"ordinal","domain":["Measured","Model"],"range":[1.5,2.5]},
     "legend":{"orient":"none","legendX":496,"legendY":155,"title":null,"padding":5,"strokeColor":"#262626","fillColor":"white","labelFont":"Liberation Serif","labelFontSize":15,"labelColor":"black","symbolSize":49,"labelOffset":11,"symbolOffset":16,"rowPadding":2}}
  }},
 {"data":{"name":"model"},
  "mark":{"type":"line","interpolate":"monotone","strokeWidth":2.5},
  "encoding":{
   "x":{"field":"x","type":"quantitative",
        "axis":{"orient":"top","offset":-74,"values":[0,0.002,0.004,0.006,0.008,0.01,0.012,0.014,0.016,0.018,0.02,0.022,0.024,0.026,0.028,0.03,0.032,0.034,0.036,0.038,0.04,0.042,0.044,0.046,0.048,0.05,0.052,0.054,0.056,0.058,0.06],
          "labels":false,"tickSize":-4,"tickColor":"#262626","domainColor":"#262626",
          "title":"a","titleFont":"Liberation Sans","titleFontWeight":"bold","titleFontSize":32,"titleColor":"black","titleAngle":0,"titleAlign":"left","titleBaseline":"alphabetic","titleX":190,"titleY":-28}},
   "y":{"field":"y","type":"quantitative",
        "axis":{"orient":"right","offset":-670,"values":[0,0.5,1,1.5,2,2.5,3,3.5,4,4.5,5,5.5,6,6.5,7,7.5,8,8.5,9,9.5,10],
          "labels":false,"tickSize":-4,"tickColor":"#262626","domainColor":"#262626","title":null}},
   "color":{"datum":"Model","type":"nominal"}
  }}
],
"resolve":{"axis":{"x":"independent","y":"independent"}}},
{"layer":[
 {"data":{"name":"acpr"},"mark":{"type":"line","color":"#1f292e","strokeWidth":1},
  "encoding":{
   "x":{"field":"x","type":"quantitative","scale":{"domain":[0.001,0.15],"range":[685,1071],"nice":false,"zero":false},
        "axis":{"orient":"bottom","offset":-118,"values":[0.02,0.04,0.06,0.08,0.1,0.12,0.14],"format":"~g","tickSize":-5,"tickColor":"#444444","domainColor":"#8a8a8a","labelFont":"Liberation Sans","labelFontSize":12,"labelColor":"#262626","labelBaseline":"alphabetic","labelPadding":23,
          "title":"Transition Probability (a)","titleFont":"Liberation Sans","titleFontSize":13.3,"titleColor":"#262626","titleBaseline":"alphabetic","titleAlign":"center","titleX":878,"titleY":36}},
   "y":{"field":"y","type":"quantitative","scale":{"domain":[0.001,0.15],"range":[379,74],"nice":false,"zero":false},
        "axis":{"orient":"left","offset":-685,"values":[0.02,0.04,0.06,0.08,0.1,0.12,0.14],"format":"~g","tickSize":-5,"tickColor":"#444444","domainColor":"#8a8a8a","labelFont":"Liberation Sans","labelFontSize":12,"labelColor":"#262626","labelPadding":10,
          "title":"Transition Probability (b)","titleFont":"Liberation Sans","titleFontSize":13.3,"titleColor":"#262626","titleAngle":-90,"titleBaseline":"middle","titleAlign":"center","titleX":-39,"titleY":226}},
   "detail":{"field":"c"},"order":{"field":"i"}}},
 {"data":{"name":"eff"},"mark":{"type":"line","color":"#45b0e3","strokeWidth":1},
  "encoding":{
   "x":{"field":"x","type":"quantitative",
        "axis":{"orient":"top","offset":-74,"values":[0.02,0.04,0.06,0.08,0.1,0.12,0.14],"labels":false,"tickSize":-5,"tickColor":"#444444","domainColor":"#8a8a8a",
          "title":"ACPR and Efficiency OFDM BW=1 MHz","titleFont":"Liberation Sans","titleFontWeight":"bold","titleFontSize":13.3,"titleColor":"black","titleAngle":0,"titleAlign":"center","titleBaseline":"alphabetic","titleX":878,"titleY":-6}},
   "y":{"field":"y","type":"quantitative",
        "axis":{"orient":"right","offset":-214,"values":[0.02,0.04,0.06,0.08,0.1,0.12,0.14],"labels":false,"tickSize":-5,"tickColor":"#444444","domainColor":"#8a8a8a",
          "title":"b","titleFont":"Liberation Sans","titleFontWeight":"bold","titleFontSize":32,"titleColor":"black","titleAngle":0,"titleAlign":"left","titleBaseline":"alphabetic","titleX":-416,"titleY":46}},
   "detail":{"field":"c"},"order":{"field":"i"}}},
 {"data":{"name":"labels"},"mark":{"type":"point","shape":"M-1,0L1,0M0,-1L0,1","size":42,"filled":false,"color":"black","strokeWidth":1,"opacity":1},
  "encoding":{"x":{"field":"x","type":"quantitative","axis":null},"y":{"field":"y","type":"quantitative","axis":null}}},
 {"data":{"name":"labels"},"mark":{"type":"text","align":"left","baseline":"alphabetic","dx":1,"dy":-2,"font":"Liberation Sans","fontSize":11.5,"color":"black"},
  "encoding":{"x":{"field":"x","type":"quantitative","axis":null},"y":{"field":"y","type":"quantitative","axis":null},"text":{"field":"t"}}},
 {"data":{"name":"note"},"mark":{"type":"text","align":"left","baseline":"middle","font":"Liberation Sans","fontSize":11.5,"color":"#1a1a1a"},
  "encoding":{"x":{"field":"x","type":"quantitative","axis":null},"y":{"field":"y","type":"quantitative","axis":null},"text":{"field":"t"}}},
 {"data":{"name":"arrow"},"mark":{"type":"line","color":"black","strokeWidth":1},
  "encoding":{"x":{"field":"x","type":"quantitative","axis":null},"y":{"field":"y","type":"quantitative","axis":null},"order":{"field":"i"}}},
 {"data":{"name":"arrow"},"transform":[{"filter":"datum.i == 2"}],"mark":{"type":"point","shape":"triangle-up","size":55,"filled":true,"color":"black","angle":-56,"opacity":1},
  "encoding":{"x":{"field":"x","type":"quantitative","axis":null},"y":{"field":"y","type":"quantitative","axis":null}}}
],
"resolve":{"axis":{"x":"independent","y":"independent"}}}
],
"resolve":{"scale":{"x":"independent","y":"independent"},"axis":{"x":"independent","y":"independent"}}
}
